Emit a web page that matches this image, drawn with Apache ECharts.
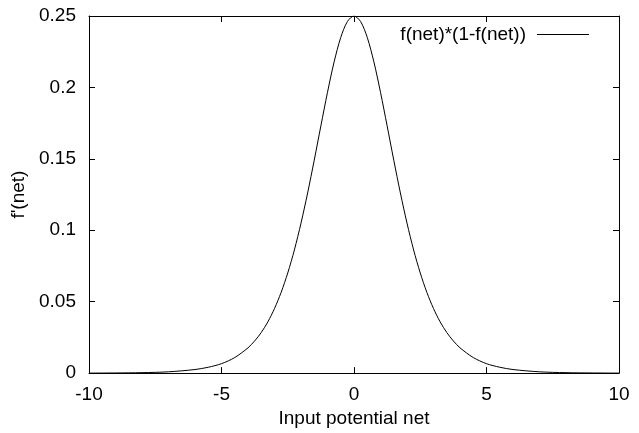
<!DOCTYPE html>
<html>
<head>
<meta charset="utf-8">
<script src="https://cdn.jsdelivr.net/npm/echarts@6/dist/echarts.min.js"></script>
<style>html,body{margin:0;padding:0;background:#fff}#c{width:639px;height:433px}</style>
</head>
<body>
<div id="c"></div>
<script>
var seriesName = "f(net)*(1-f(net))";
var xLabel = "Input potential net";
var yLabel = "f'(net)";
var netValues = [-10,-9,-8,-7,-6,-5.5,-5,-4.5,-4,-3.75,-3.5,-3.25,-3,-2.75,-2.5,-2.25,-2,-1.75,-1.5,-1.25,-1,-0.75,-0.5,-0.25,0,0.25,0.5,0.75,1,1.25,1.5,1.75,2,2.25,2.5,2.75,3,3.25,3.5,3.75,4,4.5,5,5.5,6,7,8,9,10];
var derivValues = [0.0000,0.0001,0.0003,0.0009,0.0025,0.0041,0.0066,0.0109,0.0177,0.0225,0.0284,0.0359,0.0452,0.0565,0.0701,0.0862,0.1050,0.1261,0.1491,0.1731,0.1966,0.2179,0.2350,0.2461,0.2500,0.2461,0.2350,0.2179,0.1966,0.1731,0.1491,0.1261,0.1050,0.0862,0.0701,0.0565,0.0452,0.0359,0.0284,0.0225,0.0177,0.0109,0.0066,0.0041,0.0025,0.0009,0.0003,0.0001,0.0000];
var xTicks = [-10,-5,0,5,10];
var yTicks = [0,0.05,0.1,0.15,0.2,0.25];

var chart = echarts.init(document.getElementById('c'), null, {renderer:'canvas'});
var font = 'Liberation Sans';
var fs = 19;
var pts = netValues.map(function(x,i){return [x, derivValues[i]];});
var axLine = {show:true, onZero:false, lineStyle:{color:'#000', width:1}};
var tick = {show:true, inside:true, length:6, lineStyle:{color:'#000', width:1}};
chart.setOption({
  animation:false,
  backgroundColor:'#fff',
  grid:{left:89, right:20, top:16, bottom:49, containLabel:false},
  legend:{
    data:[seriesName], right:45, top:20, align:'right',
    itemWidth:52, itemHeight:14, itemGap:0,
    textStyle:{fontFamily:font, fontSize:fs, color:'#000', padding:[0,6,0,0]},
    itemStyle:{color:'#000'},
    icon:'path://M0,0 L52,0 L52,1.2 L0,1.2 Z'
  },
  xAxis:[{
    type:'value', min:xTicks[0], max:xTicks[xTicks.length-1], interval:5, position:'bottom',
    axisLine:axLine, axisTick:tick, splitLine:{show:false},
    axisLabel:{fontFamily:font, fontSize:fs, color:'#000', margin:12},
    name:xLabel, nameLocation:'middle', nameGap:33,
    nameTextStyle:{fontFamily:font, fontSize:fs, color:'#000'}
  },{
    type:'value', min:xTicks[0], max:xTicks[xTicks.length-1], interval:5, position:'top',
    axisLine:axLine, axisTick:tick, axisLabel:{show:false}, splitLine:{show:false}
  }],
  yAxis:[{
    type:'value', min:yTicks[0], max:yTicks[yTicks.length-1], interval:0.05, position:'left',
    axisLine:axLine, axisTick:tick, splitLine:{show:false},
    axisLabel:{fontFamily:font, fontSize:fs, color:'#000', margin:13},
    name:yLabel, nameLocation:'middle', nameGap:58, nameRotate:90,
    nameTextStyle:{fontFamily:font, fontSize:fs, color:'#000'}
  },{
    type:'value', min:yTicks[0], max:yTicks[yTicks.length-1], interval:0.05, position:'right',
    axisLine:axLine, axisTick:tick, axisLabel:{show:false}, splitLine:{show:false}
  }],
  series:[{
    name:seriesName, type:'line', data:pts, smooth:0.3, symbol:'none',
    xAxisIndex:0, yAxisIndex:0,
    lineStyle:{color:'#000', width:1}, itemStyle:{color:'#000'}
  }]
});
</script>
</body>
</html>
